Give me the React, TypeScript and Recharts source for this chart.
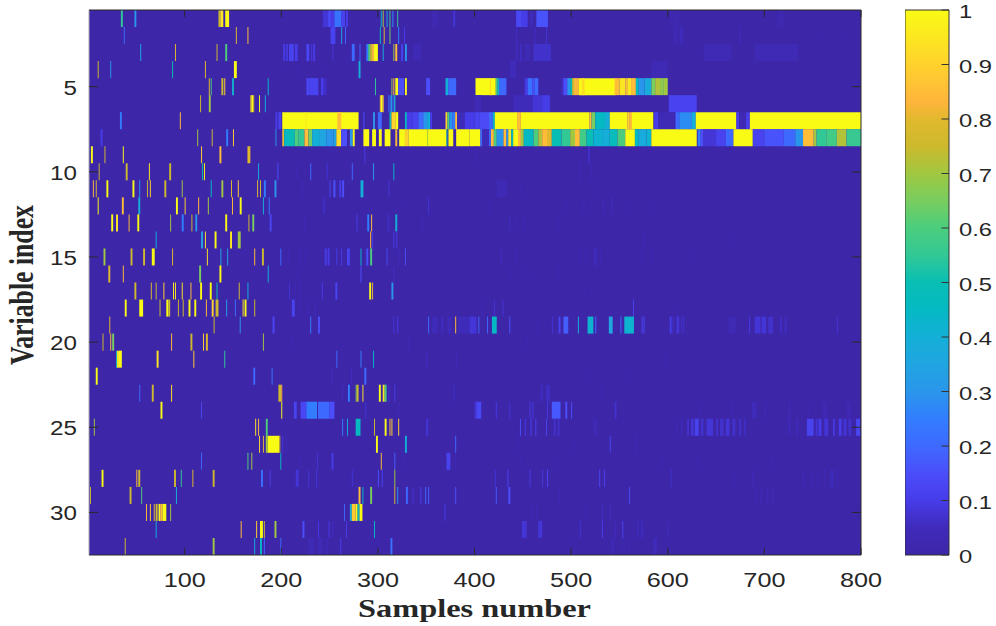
import React from "react";
import {
  ComposedChart,
  Label,
  ReferenceArea,
  ReferenceLine,
  XAxis,
  YAxis
} from "recharts";

// each cell run is [first sample, last sample, value]
type Run = [number, number, number];

const row1: Run[] = [[34,36,.55],[48,50,.3],[135,137,.75],[137,140,.95],[142,146,1],[243,248,.08],[248,252,.13],[252,255,.1],[255,262,.22],[262,266,.12],[267,269,.1],[303,304,.45],[305,306,.7],[309,310,.4],[312,313,.6],[315,316,.3],[320,321,.55],[356,362,.03],[378,380,.08],[443,449,.13],[449,455,.1],[458,460,.06],[464,476,.16],[602,612,.02],[713,721,.02]];
const row2: Run[] = [[37,38,.2],[153,154,.8],[165,166,.85],[251,256,.12],[262,263,.35],[266,267,.2],[302,303,.5],[306,307,.8],[312,313,.65],[321,322,.25],[327,328,.1],[443,444,.06],[462,463,.06],[474,475,.08],[606,610,.04],[612,616,.05],[674,676,.04],[760,761,.02],[782,783,.02]];
const row3: Run[] = [[54,55,.35],[90,91,.8],[133,134,.75],[142,144,.6],[202,204,.1],[205,207,.09],[208,213,.12],[214,217,.1],[226,229,.13],[231,232,.1],[233,235,.1],[253,254,.08],[273,276,.2],[281,282,.2],[288,290,.25],[290,292,.6],[292,294,.75],[294,296,.85],[296,300,1],[305,306,.4],[316,317,.7],[318,320,.85],[324,326,.12],[328,330,.3],[337,345,.04],[443,445,.05],[447,449,.06],[452,458,.04],[461,479,.07],[637,666,.035],[690,735,.035]];
const row4: Run[] = [[10,11,.75],[23,24,.3],[87,88,.5],[121,122,.8],[151,154,1],[280,282,.4],[205,206,.02],[216,217,.02],[240,241,.02],[437,443,.05],[583,600,.035]];
const row5: Run[] = [[125,126,.8],[127,128,.6],[138,140,.75],[141,142,.9],[149,150,.35],[150,151,.5],[186,187,.45],[226,229,.13],[229,238,.12],[238,239,.06],[241,244,.1],[244,247,.06],[297,298,.55],[314,315,.7],[316,317,.85],[318,321,1],[321,327,.15],[328,330,1],[350,354,.15],[370,373,.4],[373,381,.2],[401,422,1],[416,417,.9],[422,424,.6],[424,426,.4],[426,433,.2],[452,455,.1],[455,460,.22],[460,462,.15],[462,466,.2],[490,492,.06],[492,496,.15],[496,499,.3],[499,501,.5],[501,503,.75],[503,506,.85],[506,508,.85],[508,546,1],[511,514,.93],[545,550,.85],[550,556,.95],[556,558,.85],[558,562,.95],[562,567,.85],[567,570,.45],[570,576,.3],[576,583,.38],[583,587,.65],[587,592,.72],[592,596,.68],[596,600,.7]];
const row6: Run[] = [[116,117,.75],[125,127,.7],[168,169,.9],[169,171,1],[171,172,.8],[177,178,1],[183,184,.4],[302,303,.85],[303,305,1],[305,306,.85],[311,312,.25],[313,315,.3],[316,318,.2],[317,318,.5],[400,407,.04],[440,460,.05],[460,470,.08],[470,478,.1],[601,630,.12]];
const row7: Run[] = [[33,35,.25],[95,96,.85],[194,196,.1],[197,200,.12],[201,280,1],[258,262,.85],[225,226,.95],[285,286,.15],[295,297,.3],[300,304,.2],[312,314,.5],[314,318,.9],[318,321,1],[328,330,.45],[330,336,.1],[336,342,.12],[342,347,.2],[347,351,.3],[351,354,.4],[354,356,.1],[370,372,.9],[372,374,.6],[374,377,.3],[377,380,.25],[380,382,.85],[382,390,.05],[390,400,.1],[400,405,.12],[405,415,.14],[415,419,.2],[419,421,.45],[421,444,1],[444,448,.85],[448,519,1],[519,521,.85],[521,525,.65],[525,535,.45],[535,540,.4],[540,558,1],[558,560,.9],[560,563,.85],[563,585,1],[586,590,.1],[590,607,.04],[608,612,.2],[612,625,.28],[625,629,.4],[629,671,1],[671,674,.1],[674,681,.03],[681,685,.1],[685,800,1]];
const row8: Run[] = [[13,15,.1],[113,114,.7],[128,129,.75],[143,145,.25],[150,151,.9],[194,195,.3],[201,203,.8],[203,208,.45],[208,214,.5],[214,218,.6],[218,224,.55],[224,228,.85],[228,232,.65],[232,240,.4],[240,247,.35],[247,254,.3],[254,257,.35],[257,262,.93],[262,268,.15],[271,274,.3],[274,276,1],[285,291,1],[294,298,1],[301,304,1],[307,313,1],[318,320,.82],[322,328,1],[328,332,.9],[332,371,1],[351,352,.7],[371,372,.5],[373,378,1],[381,395,1],[395,406,1],[406,408,.2],[408,415,.05],[415,417,.2],[417,420,.85],[420,423,.6],[423,430,.3],[430,433,.85],[433,435,.3],[435,438,.95],[438,440,.5],[440,445,1],[445,448,.85],[448,451,.7],[451,461,.45],[461,466,.6],[466,470,.72],[470,475,.85],[475,480,.8],[480,490,.5],[490,499,.55],[499,504,.7],[504,509,.85],[509,516,.58],[516,523,.5],[523,532,.42],[532,540,.4],[540,548,.48],[548,556,.6],[556,566,1],[566,570,.45],[570,578,.38],[578,583,.42],[583,630,1],[631,634,.25],[634,637,.15],[637,650,.08],[650,660,.12],[660,668,.2],[668,688,1],[688,700,.12],[700,720,.16],[720,732,.2],[732,740,.3],[740,751,.85],[751,754,.7],[754,764,.55],[764,775,.58],[775,785,.72],[785,800,.56]];
const row9: Run[] = [[3,5,1],[17,18,.75],[36,37,1],[117,118,.9],[136,138,.85],[165,168,.8],[286,287,.1],[400,402,.02],[518,519,.1]];
const row10: Run[] = [[11,12,.75],[39,41,.75],[63,64,.95],[84,86,.75],[118,119,.5],[120,121,1],[176,177,.4],[196,197,.15],[215,216,.05],[230,231,.2],[247,248,.08],[273,274,.2],[295,296,.3],[316,317,.45],[508,510,.03],[520,522,.03]];
const row11: Run[] = [[5,6,.85],[8,9,.8],[19,21,1],[46,48,1],[53,54,.3],[61,62,.75],[64,65,.9],[79,81,.75],[97,98,.7],[127,128,.45],[138,140,.7],[148,149,.8],[155,156,.9],[175,176,.8],[178,179,.75],[182,184,.25],[193,195,.3],[221,222,.05],[250,251,.12],[254,256,.16],[260,262,.1],[263,265,.15],[282,285,.4],[311,312,.08],[423,433,.04],[447,448,.03],[528,529,.03]];
const row12: Run[] = [[10,11,1],[35,37,.85],[52,54,.4],[91,93,1],[100,101,.9],[114,115,.85],[124,125,.7],[149,150,.85],[157,159,1],[181,182,.4],[187,188,.25],[243,245,.06],[325,326,.02],[352,353,.08],[414,415,.03],[495,496,.03],[512,513,.04],[521,522,.04],[533,534,.05],[542,543,.06],[556,557,.03],[583,584,.02]];
const row13: Run[] = [[24,26,1],[29,31,.95],[42,43,.85],[51,53,1],[85,86,.7],[97,99,.25],[107,108,.75],[111,113,.3],[142,144,1],[166,167,.75],[170,172,.65],[188,190,.13],[224,225,.05],[278,279,.1],[289,291,.25],[293,294,.85],[310,312,.06],[318,320,.4],[345,347,.03],[436,437,.06],[442,443,.03],[451,452,.04],[487,488,.03]];
const row14: Run[] = [[70,71,.4],[117,119,.35],[121,122,.95],[131,133,1],[147,149,.95],[155,158,.7],[215,216,.02],[292,293,.85],[294,295,.1],[316,317,.1],[319,320,.1],[574,576,.03],[670,671,.03]];
const row15: Run[] = [[16,18,.7],[44,46,.75],[57,59,.75],[66,69,1],[87,88,.8],[123,124,.95],[137,138,.35],[144,145,.35],[172,173,.85],[180,182,.75],[199,200,.2],[207,208,.04],[219,220,.05],[224,225,.04],[245,247,.1],[248,250,.1],[257,258,.1],[262,263,.1],[268,271,.12],[282,283,.45],[288,290,.15],[292,294,.6],[309,310,.13],[321,322,.06],[328,329,.15],[427,428,.06],[442,443,.04],[509,510,.03],[514,515,.03],[523,527,.05],[530,531,.04],[573,574,.03],[583,584,.03],[623,624,.03]];
const row16: Run[] = [[21,23,.8],[36,37,.85],[115,117,.65],[136,138,1],[186,187,.4],[216,217,.02],[282,283,.15],[316,317,.06],[436,437,.03],[454,455,.02],[461,462,.02],[487,488,.03]];
const row17: Run[] = [[48,50,.75],[65,66,.8],[70,71,.75],[78,79,.9],[88,89,1],[90,91,.95],[97,98,.95],[106,107,.85],[116,118,1],[126,128,1],[133,134,.5],[156,157,.75],[165,166,.4],[208,209,.08],[214,215,.04],[219,220,.05],[242,243,.1],[256,258,.13],[291,293,1],[294,295,.8],[314,316,.3],[521,522,.04]];
const row18: Run[] = [[38,40,1],[53,57,1],[74,75,.75],[81,83,1],[83,85,.75],[93,94,.75],[98,99,.75],[104,106,1],[110,112,1],[122,123,.85],[128,130,.9],[132,135,.75],[143,144,.35],[152,153,.22],[160,161,.95],[162,164,1],[172,173,.75],[211,214,.12],[219,220,.05],[228,229,.05],[235,236,.05],[407,408,.04],[420,421,.08],[429,430,.08],[564,565,.12],[606,607,.03]];
const row19: Run[] = [[22,23,.8],[130,131,.75],[157,158,.3],[191,193,.13],[230,231,.25],[238,240,.15],[316,317,.08],[320,321,.1],[352,353,.2],[356,362,.05],[365,368,.05],[372,376,.05],[380,381,.85],[383,400,.05],[404,405,.2],[395,402,.08],[413,414,.2],[418,423,.45],[436,437,.16],[464,465,.03],[480,481,.08],[487,489,.12],[492,497,.18],[507,508,.4],[517,523,.42],[525,526,.2],[539,543,.35],[551,552,.2],[555,565,.42],[573,574,.13],[575,576,.13],[602,604,.1],[605,606,.07],[609,612,.08],[614,615,.07],[616,617,.07],[663,671,.04],[684,685,.1],[690,696,.08],[697,702,.08],[704,709,.07],[716,718,.06],[721,723,.06],[775,776,.08]];
const row20: Run[] = [[15,16,.75],[23,24,.85],[25,27,.65],[86,87,.85],[106,108,.75],[119,120,.9],[122,124,.8],[181,182,.7],[211,213,.02],[331,332,.04],[454,456,.02]];
const row21: Run[] = [[29,30,.45],[30,32,.95],[32,35,1],[71,73,.95],[109,110,.9],[141,142,.55],[257,258,.2],[282,283,.25],[295,296,.45],[350,351,.06],[381,382,.05],[428,429,.02],[597,598,.02]];
const row22: Run[] = [[8,10,1],[171,173,.2],[190,191,.22],[252,253,.06],[272,273,.06],[286,288,.2],[516,517,.03],[559,560,.02]];
const row23: Run[] = [[53,54,.2],[66,68,.75],[86,87,.95],[197,200,.75],[200,201,.83],[263,264,.06],[269,271,.25],[277,278,.65],[278,280,.75],[284,285,.95],[301,303,1],[305,307,.95],[307,309,.6],[311,312,.08],[317,318,.1],[378,380,.05],[468,471,.05],[474,478,.06],[530,531,.03]];
const row24: Run[] = [[75,77,1],[117,118,.13],[200,201,1],[213,216,.12],[220,226,.13],[226,237,.25],[238,250,.2],[250,255,.15],[287,288,.08],[321,322,.05],[400,402,.08],[402,407,.13],[422,423,.1],[436,437,.08],[457,458,.1],[460,461,.1],[475,476,.09],[480,489,.17],[494,496,.15],[500,501,.15],[545,547,.07],[632,633,.04],[666,667,.04],[687,692,.05],[700,702,.03],[725,727,.03],[745,746,.03],[760,765,.03],[785,790,.03]];
const row25: Run[] = [[6,7,.7],[173,174,.95],[176,177,.85],[184,186,.6],[263,264,.25],[268,269,.4],[277,282,.45],[296,297,.75],[307,309,1],[312,313,.85],[314,315,.9],[321,322,.9],[350,352,.08],[447,448,.15],[452,453,.1],[458,459,.12],[463,464,.12],[474,475,.12],[482,484,.07],[486,488,.07],[523,527,.04],[609,610,.05],[614,615,.06],[620,622,.07],[624,627,.08],[628,632,.12],[634,637,.07],[640,647,.08],[650,652,.07],[654,658,.07],[660,664,.08],[667,670,.07],[674,676,.07],[679,681,.06],[725,727,.05],[733,735,.05],[744,751,.12],[753,755,.08],[756,759,.1],[762,766,.08],[771,773,.09],[777,780,.1],[782,785,.08],[787,790,.07],[795,799,.13]];
const row26: Run[] = [[177,178,.9],[181,182,.8],[184,186,.7],[186,198,1],[198,199,.75],[201,202,.08],[205,206,.05],[298,300,1],[328,330,.4],[378,379,.03],[380,381,.2],[445,446,.03],[503,504,.03],[540,541,.13],[566,567,.05]];
const row27: Run[] = [[117,118,.2],[165,166,.6],[169,170,.7],[199,200,.45],[219,220,.03],[237,238,.08],[252,254,.1],[303,304,.85],[317,318,.18],[326,327,.03],[371,375,.12],[380,381,.05],[447,448,.03],[482,483,.03],[594,595,.03],[630,631,.03],[708,709,.03]];
const row28: Run[] = [[14,16,1],[50,51,.85],[52,54,.75],[89,91,.75],[96,97,.55],[108,109,.8],[129,131,.75],[179,181,.22],[188,189,.1],[215,218,.08],[228,229,.08],[236,237,.08],[273,274,.08],[300,301,.15],[304,305,.12],[317,318,.7],[421,422,.08],[434,435,.12],[457,458,.1],[470,471,.09],[475,476,.13],[529,530,.12],[534,535,.12],[603,604,.07],[668,669,.05],[688,689,.06],[739,741,.03],[749,750,.05],[755,756,.04],[762,763,.04],[768,772,.05],[775,776,.05]];
const row29: Run[] = [[2,3,.75],[43,45,.75],[55,56,.6],[91,92,.4],[280,282,.85],[284,285,.45],[292,294,.65],[317,318,.8],[320,321,.3],[329,331,.2],[336,337,.08],[344,345,.12],[349,350,.2],[352,353,.18],[380,381,.15],[422,423,.18],[435,437,.15],[487,488,.05],[560,561,.13],[690,692,.03],[696,698,.03],[702,704,.03],[708,710,.03]];
const row30: Run[] = [[60,61,.85],[64,65,.9],[68,69,.8],[70,72,.75],[73,75,1],[75,77,.85],[77,81,1],[85,86,.7],[265,266,.2],[271,273,.4],[273,277,.88],[277,279,1],[279,281,.45],[281,284,1],[369,370,.1],[459,460,.04],[464,465,.04],[515,516,.04],[532,533,.06],[540,541,.06]];
const row31: Run[] = [[70,71,.4],[158,159,.85],[174,175,.9],[178,181,1],[182,183,.75],[193,195,.7],[222,224,.15],[238,239,.1],[249,250,.1],[253,254,.06],[267,268,.1],[296,297,.45],[449,454,.08],[466,470,.08],[509,510,.08],[532,533,.1],[545,546,.06],[553,554,.12],[568,570,.05],[572,575,.05],[600,601,.06]];
const row32: Run[] = [[38,39,.75],[129,131,.7],[172,173,.4],[178,180,.45],[182,183,.2],[199,200,.2],[228,234,.04],[238,243,.04],[246,248,.04],[261,262,.1],[300,301,.05],[313,315,.22],[503,504,.03],[542,544,.05],[553,554,.03],[560,561,.03],[585,589,.05]];

const rows: Run[][] = [row1, row2, row3, row4, row5, row6, row7, row8, row9, row10, row11, row12, row13, row14, row15, row16, row17, row18, row19, row20, row21, row22, row23, row24, row25, row26, row27, row28, row29, row30, row31, row32];

const sampleTicks = [100, 200, 300, 400, 500, 600, 700, 800];
const variableTicks = [5, 10, 15, 20, 25, 30];
const colorTicks = [0, 0.1, 0.2, 0.3, 0.4, 0.5, 0.6, 0.7, 0.8, 0.9, 1];

// colour map
const mapValues = [0, .05, .1, .15, .2, .25, .3, .35, .4, .45, .5, .55, .6, .65, .7, .75, .8, .83, .9, 1];
const mapColors = [
  [62, 38, 168], [63, 43, 186], [70, 60, 232], [75, 78, 250], [62, 105, 255], [50, 125, 255],
  [42, 150, 235], [32, 165, 225], [20, 175, 215], [5, 185, 195], [8, 190, 180],
  [50, 200, 150], [75, 205, 125], [120, 205, 95], [160, 200, 65], [205, 185, 45],
  [225, 185, 45], [255, 180, 60], [255, 210, 45], [249, 251, 20]
];

const colorOf = (v: number) => {
  let i = 0;
  while (i < mapValues.length - 2 && v > mapValues[i + 1]) i++;
  const t = (v - mapValues[i]) / (mapValues[i + 1] - mapValues[i]);
  const c = mapColors[i].map((a, k) => Math.round(a + (mapColors[i + 1][k] - a) * t));
  return `rgb(${c[0]},${c[1]},${c[2]})`;
};

const TICK_COLOR = "#262626";
const MARK_COLOR = "#2a2a2a";
const TICK_FONT = "'Liberation Sans', Arial, sans-serif";
const TITLE_FONT = "'Liberation Serif', 'Times New Roman', serif";

// inward tick lengths, in axis units
const X_TICK_LEN = 0.42;
const Y_TICK_LEN = 9.5;
const COLOR_TICK_LEN = 0.17;

const TickText = ({ x, y, value, anchor, size, stretch }: any) => (
  <text
    transform={`translate(${x},${y}) scale(${stretch},1)`}
    textAnchor={anchor}
    fontFamily={TICK_FONT}
    fontSize={size}
    fill={TICK_COLOR}
  >
    {value}
  </text>
);

const SampleTick = ({ x, y, payload }: any) => (
  <TickText x={x} y={y + 24} value={payload.value} anchor="middle" size={20.5} stretch={1.23} />
);
const VariableTick = ({ x, y, payload }: any) => (
  <TickText x={x - 4} y={y + 8} value={payload.value} anchor="end" size={20} stretch={1.21} />
);
const ColorTick = ({ x, y, payload }: any) => (
  <TickText x={x + 2} y={y + 8} value={payload.value} anchor="start" size={19} stretch={1.25} />
);

const SamplesTitle = ({ viewBox }: any) => (
  <text
    x={viewBox.x + viewBox.width / 2 - 0.5}
    y={617}
    textAnchor="middle"
    textLength={233}
    lengthAdjust="spacingAndGlyphs"
    fontFamily={TITLE_FONT}
    fontWeight="bold"
    fontSize={25}
    fill={TICK_COLOR}
  >
    Samples number
  </text>
);

const VariableTitle = () => (
  <text
    transform="translate(33,285) rotate(-90)"
    textAnchor="middle"
    textLength={160}
    lengthAdjust="spacingAndGlyphs"
    fontFamily={TITLE_FONT}
    fontWeight="bold"
    fontSize={33}
    fill={TICK_COLOR}
  >
    Variable index
  </text>
);

const App = () => (
  <div style={{ position: "absolute", left: 0, top: 0, width: 996, height: 626, background: "#fff" }}>
    <div style={{ position: "absolute", left: 0, top: 0 }}>
      <ComposedChart width={890} height={626} margin={{ top: 10, right: 29, bottom: 0, left: 0 }}>
        <XAxis type="number" dataKey="x" domain={[1, 800]} allowDataOverflow ticks={sampleTicks} interval={0} height={71} tickLine={false} axisLine={false} tick={<SampleTick />}>
          <Label content={<SamplesTitle />} />
        </XAxis>
        <YAxis type="number" dataKey="y" domain={[0.5, 32.5]} allowDataOverflow reversed ticks={variableTicks} interval={0} width={89} tickLine={false} axisLine={false} tick={<VariableTick />}>
          <Label content={<VariableTitle />} />
        </YAxis>

        <ReferenceArea x1={1} x2={800} y1={0.5} y2={32.5} fill={colorOf(0)} fillOpacity={1} stroke="none" />
        {rows.map((runs, r) =>
          runs.map((run, i) => (
            <ReferenceArea
              key={`${r}-${i}`}
              x1={run[0]}
              x2={run[1]}
              y1={r + 0.5}
              y2={r + 1.5}
              fill={colorOf(run[2])}
              fillOpacity={1}
              stroke="none"
            />
          ))
        )}

        {/* box and inward tick marks, on top of the cells */}
        <ReferenceLine x={1} stroke="#aaa" />
        <ReferenceLine x={800} stroke={MARK_COLOR} />
        <ReferenceLine y={0.5} stroke={MARK_COLOR} />
        <ReferenceLine y={32.5} stroke={MARK_COLOR} />
        {sampleTicks.map((t) => (
          <ReferenceLine key={`b${t}`} segment={[{ x: t, y: 32.5 }, { x: t, y: 32.5 - X_TICK_LEN }]} stroke={MARK_COLOR} />
        ))}
        {sampleTicks.map((t) => (
          <ReferenceLine key={`t${t}`} segment={[{ x: t, y: 0.5 }, { x: t, y: 0.5 + X_TICK_LEN }]} stroke={MARK_COLOR} />
        ))}
        {variableTicks.map((t) => (
          <ReferenceLine key={`l${t}`} segment={[{ x: 1, y: t }, { x: 1 + Y_TICK_LEN, y: t }]} stroke={MARK_COLOR} />
        ))}
        {variableTicks.map((t) => (
          <ReferenceLine key={`r${t}`} segment={[{ x: 800, y: t }, { x: 800 - Y_TICK_LEN, y: t }]} stroke={MARK_COLOR} />
        ))}
      </ComposedChart>
    </div>

    <div style={{ position: "absolute", left: 905, top: 0 }}>
      <ComposedChart width={91} height={626} margin={{ top: 10, right: 0, bottom: 71, left: 0 }}>
        <defs>
          <linearGradient id="parula" x1="0" y1="1" x2="0" y2="0">
            {mapValues.map((v) => (
              <stop key={v} offset={v} stopColor={colorOf(v)} />
            ))}
          </linearGradient>
        </defs>
        <XAxis type="number" dataKey="x" domain={[0, 1]} allowDataOverflow hide />
        <YAxis type="number" dataKey="v" domain={[0, 1]} allowDataOverflow ticks={colorTicks} interval={0} orientation="right" width={47} tickLine={false} axisLine={false} tick={<ColorTick />} />
        <ReferenceArea x1={0} x2={1} y1={0} y2={1} fill="url(#parula)" fillOpacity={1} stroke="#333" strokeWidth={1} />
        {colorTicks.map((t) => (
          <ReferenceLine key={t} segment={[{ x: 1, y: t }, { x: 1 - COLOR_TICK_LEN, y: t }]} stroke="#333" />
        ))}
      </ComposedChart>
    </div>
  </div>
);

export default App;
